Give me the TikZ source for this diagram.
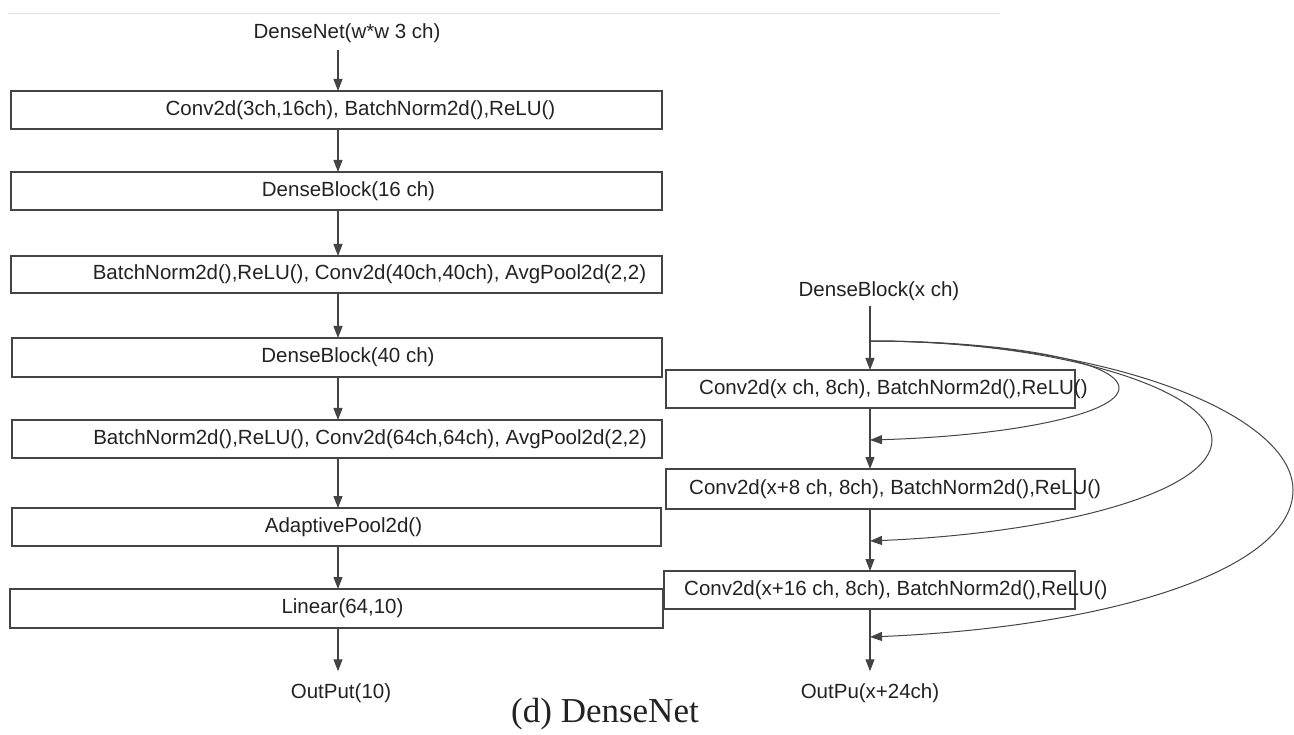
\documentclass[tikz,border=0pt]{standalone}
\usepackage{fontspec}
\setmainfont{Liberation Sans}
\newfontfamily\capfont{Liberation Serif}
\usetikzlibrary{arrows.meta}
\definecolor{ink}{HTML}{222222}
\definecolor{edge}{HTML}{444444}
\begin{document}
\begin{tikzpicture}[x=1pt,y=-1pt,
  lbl/.style={font=\fontsize{20.5}{24}\selectfont, text=ink, inner sep=2pt},
  box/.style={draw=edge, line width=1.3pt, rectangle, inner sep=0pt, outer sep=0pt},
  arr/.style={draw=edge, line width=1.1pt, -{Triangle[length=12pt,width=9pt]}},
  skip/.style={draw=edge, line width=1pt, -{Triangle[length=12pt,width=9pt]}}]
\useasboundingbox (0,0) rectangle (1294,735);
% faint top rule
\draw[gray!25, line width=1pt] (8,14) -- (1000,14);
\coordinate (ax) at (338,0);
\coordinate (rx) at (870,0);
% left column
\node[lbl] (title) at (347,33) {DenseNet(w*w 3 ch)};
\node[box, minimum width=651pt, minimum height=38pt, label={[lbl,xshift=24pt]center:Conv2d(3ch,16ch), BatchNorm2d(),ReLU()}] (b1) at (336.5,110) {};
\node[box, minimum width=651pt, minimum height=38pt, label={[lbl,xshift=12pt]center:DenseBlock(16 ch)}] (b2) at (336.5,191) {};
\node[box, minimum width=651pt, minimum height=37pt, label={[lbl,xshift=33pt]center:BatchNorm2d(),ReLU(), Conv2d(40ch,40ch), AvgPool2d(2,2)}] (b3) at (336.5,274.5) {};
\node[box, minimum width=650pt, minimum height=39pt, label={[lbl,xshift=11pt]center:DenseBlock(40 ch)}] (b4) at (337,357.5) {};
\node[box, minimum width=650pt, minimum height=38pt, label={[lbl,xshift=33pt]center:BatchNorm2d(),ReLU(), Conv2d(64ch,64ch), AvgPool2d(2,2)}] (b5) at (337,439) {};
\node[box, minimum width=649pt, minimum height=38pt, label={[lbl,xshift=7pt]center:AdaptivePool2d()}] (b6) at (336.5,527) {};
\node[box, minimum width=653pt, minimum height=39pt, label={[lbl,xshift=6pt]center:Linear(64,10)}] (b7) at (336.5,608.5) {};
\node[lbl] (out1) at (341,693) {OutPut(10)};
\draw[arr] ([yshift=-5pt]title.south -| ax) -- (b1.north -| ax);
\draw[arr] (b1.south -| ax) -- (b2.north -| ax);
\draw[arr] (b2.south -| ax) -- (b3.north -| ax);
\draw[arr] (b3.south -| ax) -- (b4.north -| ax);
\draw[arr] (b4.south -| ax) -- (b5.north -| ax);
\draw[arr] (b5.south -| ax) -- (b6.north -| ax);
\draw[arr] (b6.south -| ax) -- (b7.north -| ax);
\draw[arr] (b7.south -| ax) -- ([yshift=10pt]out1.north -| ax);
% right column
\node[lbl] (dbx) at (879,291) {DenseBlock(x ch)};
\node[box, minimum width=409pt, minimum height=38pt] (r1) at (870.5,389) {};
\node[lbl, anchor=west, inner sep=0pt] (r1t) at (699,389) {Conv2d(x ch, 8ch), BatchNorm2d(),ReLU()};
\node[box, minimum width=409pt, minimum height=40pt] (r2) at (870.5,489) {};
\node[lbl, anchor=west, inner sep=0pt] (r2t) at (689,489) {Conv2d(x+8 ch, 8ch), BatchNorm2d(),ReLU()};
\node[box, minimum width=411pt, minimum height=38pt] (r3) at (869.5,590) {};
\node[lbl, anchor=west, inner sep=0pt] (r3t) at (684,590) {Conv2d(x+16 ch, 8ch), BatchNorm2d(),ReLU()};
\node[lbl] (out2) at (870,693) {OutPu(x+24ch)};
\coordinate (split) at (870,341);
\coordinate (j1) at (870,440);
\coordinate (j2) at (870,541);
\coordinate (j3) at (870,637);
\draw[arr] ([yshift=-3pt]dbx.south -| rx) -- (r1.north -| rx);
\draw[arr] (r1.south -| rx) -- (r2.north -| rx);
\draw[arr] (r2.south -| rx) -- (r3.north -| rx);
\draw[arr] (r3.south -| rx) -- ([yshift=10pt]out2.north -| rx);
% skip connections
\draw[skip] (split) .. controls (1010,341) and (1119,362) .. (1119,388)
                     .. controls (1119,414) and (1010,436) .. (j1);
\draw[skip] (split) .. controls (1060,341) and (1212,390) .. (1212,440)
                     .. controls (1212,492) and (1060,533) .. (j2);
\draw[skip] (split) .. controls (1110,341) and (1293,415) .. (1293,490)
                     .. controls (1293,570) and (1110,627) .. (j3);
% caption
\node[font=\capfont\fontsize{35}{40}\selectfont, text=ink, inner sep=0pt] (cap) at (605,714) {(d) DenseNet};
\end{tikzpicture}
\end{document}
